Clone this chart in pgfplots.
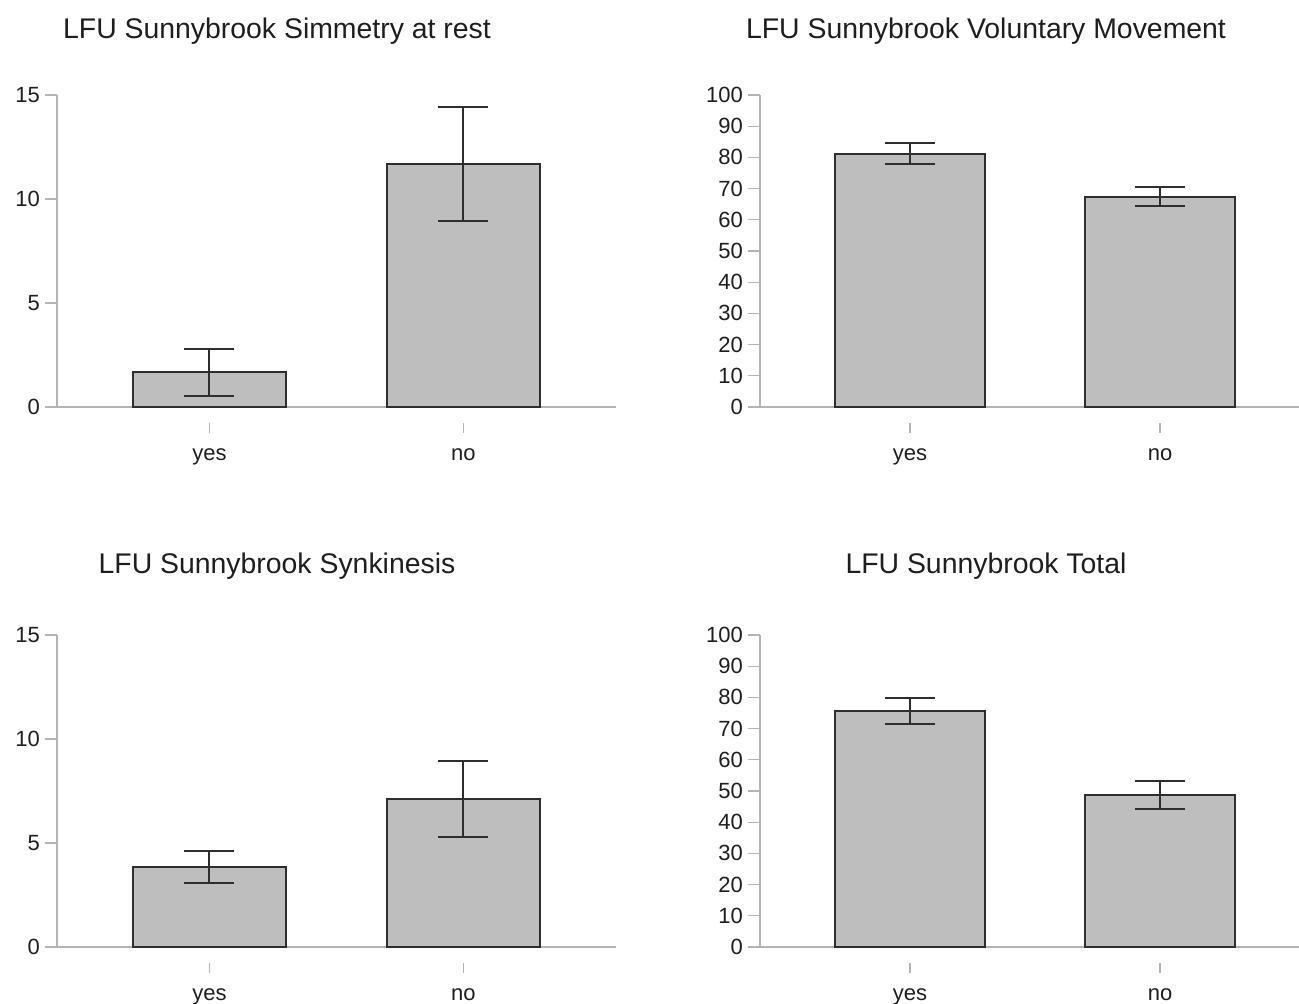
\documentclass[border=0pt]{standalone}
\usepackage{pgfplots}
\pgfplotsset{compat=1.18}
\usepackage{pgfplotstable}
\usepackage{fontspec}
\setmainfont{Liberation Sans}
\definecolor{barfill}{HTML}{BEBEBE}
\definecolor{bardark}{HTML}{2E2E2E}
\definecolor{axgray}{HTML}{B4B4B4}
\definecolor{txt}{HTML}{1E1E1E}

\pgfplotstableread{
x y ep em
1 1.68 1.12 1.16
2 11.67 2.73 2.71
}\tlData
\pgfplotstableread{
x y ep em
1 81.1 3.5 3.3
2 67.4 3.2 3.1
}\trData
\pgfplotstableread{
x y ep em
1 3.85 0.78 0.75
2 7.11 1.83 1.83
}\blData
\pgfplotstableread{
x y ep em
1 75.7 4.0 4.2
2 48.6 4.5 4.5
}\brData

\pgfplotsset{
  panel/.style={
    scale only axis,
    anchor=south west,
    height=156pt,
    xmin=0.4, xmax=2.6,
    ymin=0,
    axis x line=bottom,
    axis y line=left,
    axis line style={-, draw=axgray, line width=0.6pt},
    x axis line style={shorten <=-6pt},
    xtick={1,2},
    xticklabels={yes,no},
    tick align=outside,
    major tick length=5pt,
    xtick style={draw=axgray, line width=0.6pt, yshift=-8pt},
    ytick style={draw=axgray, line width=0.6pt, /pgfplots/major tick length=6pt},
    tick label style={font=\fontsize{11}{13}\selectfont, text=txt},
    xticklabel style={yshift=-12.5pt},
    /pgf/number format/assume math mode=true,
    clip=false,
  },
  barplot/.style={
    ybar, bar width=0.6,
    fill=barfill, draw=bardark, line width=1pt,
    error bars/.cd,
      y dir=both, y explicit,
      error bar style={draw=bardark, line width=1pt},
      error mark=|,
      error mark options={draw=bardark, line width=1pt, mark size=12.5pt},
  },
}

\begin{document}
\begin{tikzpicture}
\path[use as bounding box] (0,0) rectangle (649.5pt,501.5pt);

% Top-left
\begin{axis}[panel, at={(28.5pt,298pt)}, width=279.4pt, ymax=15, ytick={0,5,10,15}]
\addplot[barplot] table[x=x, y=y, y error plus=ep, y error minus=em] {\tlData};
\end{axis}
\node[text=txt, font=\fontsize{14.2}{17}\selectfont] at (138.5pt,486pt) {LFU Sunnybrook Simmetry at rest};

% Top-right
\begin{axis}[panel, at={(380pt,298pt)}, width=275pt, ymax=100, ytick={0,10,...,100}]
\addplot[barplot] table[x=x, y=y, y error plus=ep, y error minus=em] {\trData};
\end{axis}
\node[text=txt, font=\fontsize{14.2}{17}\selectfont] at (493pt,486pt) {LFU Sunnybrook Voluntary Movement};

% Bottom-left
\begin{axis}[panel, at={(28.5pt,28pt)}, width=279.4pt, ymax=15, ytick={0,5,10,15}]
\addplot[barplot] table[x=x, y=y, y error plus=ep, y error minus=em] {\blData};
\end{axis}
\node[text=txt, font=\fontsize{14.2}{17}\selectfont] at (138.5pt,218.5pt) {LFU Sunnybrook Synkinesis};

% Bottom-right
\begin{axis}[panel, at={(380pt,28pt)}, width=275pt, ymax=100, ytick={0,10,...,100}]
\addplot[barplot] table[x=x, y=y, y error plus=ep, y error minus=em] {\brData};
\end{axis}
\node[text=txt, font=\fontsize{14.2}{17}\selectfont] at (493pt,218.5pt) {LFU Sunnybrook Total};

\end{tikzpicture}
\end{document}
